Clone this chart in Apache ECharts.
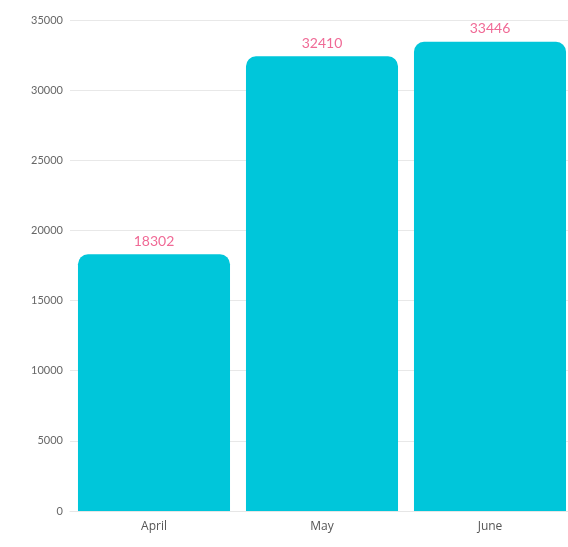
<!DOCTYPE html>
<html>
<head>
<meta charset="utf-8">
<script src="https://cdn.jsdelivr.net/npm/echarts@6/dist/echarts.min.js"></script>
<style>html,body{margin:0;padding:0;background:#fff;overflow:hidden}#c{width:568px;height:547px}</style>
</head>
<body>
<div id="c"></div>
<script>
var categories = ['April', 'May', 'June'];
var values = [18302, 32410, 33446];
var chart = echarts.init(document.getElementById('c'));
chart.setOption({
  animation: false,
  grid: { left: 70, width: 504, top: 20, bottom: 36, containLabel: false, outerBoundsMode: 'none' },
  xAxis: {
    type: 'category',
    data: categories,
    axisLine: { show: true, lineStyle: { color: '#e6e6e6' } },
    axisTick: { show: false },
    axisLabel: { color: '#555', fontSize: 12, fontFamily: 'Open Sans', margin: 10 }
  },
  yAxis: {
    type: 'value',
    min: 0, max: 35000, interval: 5000,
    axisLine: { show: false },
    axisTick: { show: false },
    axisLabel: { color: '#666', fontSize: 11, fontFamily: 'Lato', margin: 7, formatter: function (v) { return String(v); } },
    splitLine: { lineStyle: { color: '#e8e8e8' } }
  },
  series: [{
    type: 'bar',
    data: values,
    barCategoryGap: '9.5%',
    itemStyle: { color: '#00C6DA', borderRadius: [10, 10, 0, 0] },
    label: { show: true, position: 'top', color: '#f06a96', fontSize: 14, fontFamily: 'Lato', distance: 6 }
  }]
});
</script>
</body>
</html>
